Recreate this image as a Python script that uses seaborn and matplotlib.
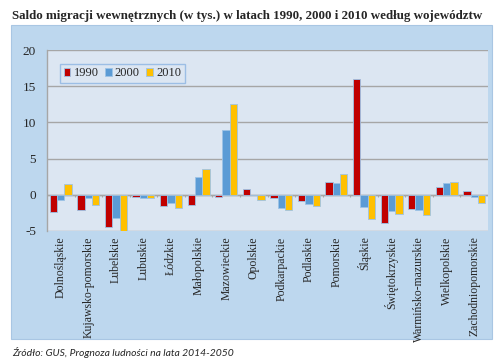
import matplotlib.pyplot as plt
import seaborn as sns
import pandas as pd
from matplotlib.patches import Rectangle

# Data (thousands of people)
voivodeships = ['Dolnośląskie', 'Kujawsko-pomorskie', 'Lubelskie', 'Lubuskie', 'Łódzkie',
                'Małopolskie', 'Mazowieckie', 'Opolskie', 'Podkarpackie', 'Podlaskie',
                'Pomorskie', 'Śląskie', 'Świętokrzyskie', 'Warmińsko-mazurskie',
                'Wielkopolskie', 'Zachodniopomorskie']
years = ['1990', '2000', '2010']
saldo_1990 = [-2.4, -2.1, -4.5, -0.3, -1.6, -1.4, -0.3, 0.8, -0.5, -0.9, 1.7, 16.0, -3.9, -2.0, 1.1, 0.5]
saldo_2000 = [-0.7, -0.5, -3.2, -0.5, -1.2, 2.4, 8.9, -0.1, -1.8, -1.3, 1.6, -1.7, -2.2, -2.1, 1.6, -0.3]
saldo_2010 = [1.5, -1.4, -5.0, -0.5, -1.8, 3.6, 12.6, -0.7, -2.1, -1.6, 2.8, -3.3, -2.6, -2.8, 1.7, -1.2]
y_ticks = [-5, 0, 5, 10, 15, 20]

COLORS = {'1990': '#C00000', '2000': '#5B9BD5', '2010': '#FFC000'}

df = pd.DataFrame({
    'woj': voivodeships * 3,
    'rok': [y for y in years for _ in voivodeships],
    'saldo': saldo_1990 + saldo_2000 + saldo_2010,
})

sns.set_theme(style='white')
plt.rcParams['font.family'] = ['Liberation Serif', 'DejaVu Serif']

fig = plt.figure(figsize=(5.0, 3.63), dpi=100)
fig.patch.set_facecolor('white')

# outer light-blue chart frame
fig.patches.append(Rectangle((0.022, 0.066), 0.962, 0.865, transform=fig.transFigure,
                             facecolor='#BDD7EE', edgecolor='#A9C6E3', lw=0.8, zorder=-5))

ax = fig.add_axes([0.094, 0.364, 0.882, 0.498])
ax.set_zorder(2)
ax.set_facecolor('#DCE6F2')

sns.barplot(data=df, x='woj', y='saldo', hue='rok', palette=COLORS, width=0.8, saturation=1,
            edgecolor='#9DC3E6', linewidth=0.6, ax=ax, legend=True, zorder=3)

ax.set_ylim(-5, 20)
ax.set_xlim(-0.5, len(voivodeships) - 0.5)
ax.set_yticks(y_ticks)
ax.set_yticklabels([str(t) for t in y_ticks], fontsize=9.5)
ax.yaxis.grid(True, color='#A6A6A6', lw=1.0, zorder=1)
ax.set_axisbelow(True)
ax.axhline(0, color='#A6A6A6', lw=1.0, zorder=2)
ax.vlines([i + 0.5 for i in range(len(voivodeships) - 1)], -0.25, 0, color='#A6A6A6', lw=0.8, zorder=2)

ax.set_xticks(range(len(voivodeships)))
ax.set_xticklabels(voivodeships, rotation=90, fontsize=8.5, va='top')
ax.tick_params(axis='x', length=0, pad=4)
ax.tick_params(axis='y', length=0, pad=8)
ax.set_xlabel('')
ax.set_ylabel('')

for side in ['top', 'right', 'bottom']:
    ax.spines[side].set_visible(False)
ax.spines['left'].set_color('#A6A6A6')
ax.spines['left'].set_linewidth(1.0)

leg = ax.legend(loc='upper left', bbox_to_anchor=(0.015, 0.96), ncol=3, frameon=True,
                fontsize=9, handlelength=0.55, handleheight=0.55, handletextpad=0.25,
                columnspacing=0.5, borderpad=0.3, fancybox=False)
leg.get_frame().set_edgecolor('#8DB4E2')
leg.get_frame().set_facecolor('#DCE6F2')
leg.get_frame().set_linewidth(1.0)

fig.text(0.024, 0.955, 'Saldo migracji wewnętrznych (w tys.) w latach 1990, 2000 i 2010 według województw',
         fontsize=9.35, fontweight='bold', ha='left', va='center')
fig.text(0.024, 0.028, 'Źródło: GUS, Prognoza ludności na lata 2014-2050',
         fontsize=7.5, style='italic', family=['Lato', 'DejaVu Sans'], ha='left', va='center')

fig.savefig('out.png', dpi=100)
